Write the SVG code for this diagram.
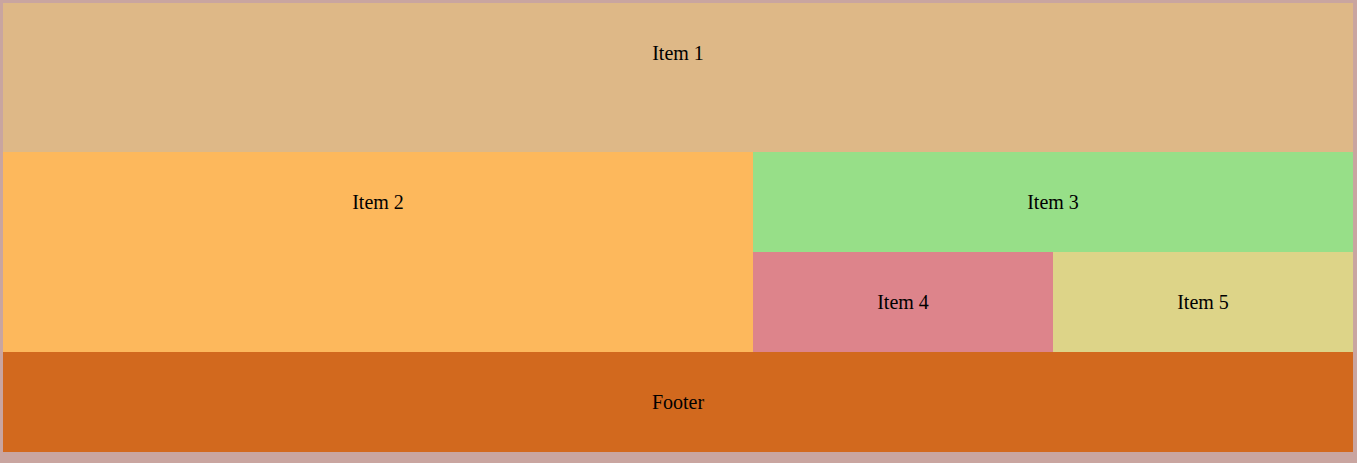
<svg xmlns="http://www.w3.org/2000/svg" width="1357" height="463" viewBox="0 0 1357 463">
<style>
text{font-family:"Liberation Serif","Times New Roman",serif;font-size:20px;fill:#000;text-anchor:middle}
</style>
<rect x="0" y="0" width="1357" height="463" fill="#c9a5a0"/>
<g id="item1"><rect x="3" y="3" width="1350" height="149" fill="#deb887"/><text x="678" y="60">Item 1</text></g>
<g id="item2"><rect x="3" y="152" width="750" height="200" fill="#fdb85c"/><text x="378" y="209">Item 2</text></g>
<g id="item3"><rect x="753" y="152" width="600" height="100" fill="#97df88"/><text x="1053" y="209">Item 3</text></g>
<g id="item4"><rect x="753" y="252" width="300" height="100" fill="#dd848b"/><text x="903" y="309">Item 4</text></g>
<g id="item5"><rect x="1053" y="252" width="300" height="100" fill="#ddd488"/><text x="1203" y="309">Item 5</text></g>
<g id="footer"><rect x="3" y="352" width="1350" height="100" fill="#d2691e"/><text x="678" y="409">Footer</text></g>
<g id="connectors"/>
</svg>
